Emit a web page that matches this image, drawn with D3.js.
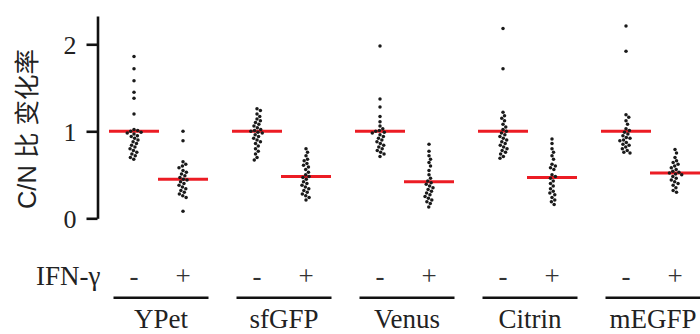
<!DOCTYPE html>
<html><head><meta charset="utf-8">
<script src="https://cdn.jsdelivr.net/npm/d3@7"></script>
<style>body{margin:0;background:#fff}svg{display:block}.serif{font-family:"Liberation Serif","Times New Roman",serif}</style>
</head><body><svg id="c" width="700" height="334"></svg>
<script>
const groups = ["YPet","sfGFP","Venus","Citrin","mEGFP"];
const conditions = ["-","+"];
const treatmentLabel = "IFN-γ";
const yTicks = [0,1,2];
const yLabel = "C/N 比 变化率";

const YPet_minus  = [1.86,1.72,1.58,1.45,1.38,1.20,1.02,1.01,1.00,0.99,0.98,0.97,0.95,0.94,0.92,0.90,0.88,0.86,0.84,0.82,0.80,0.78,0.76,0.74,0.72,0.70,0.68];
const YPet_plus   = [1.00,0.89,0.65,0.62,0.60,0.58,0.55,0.53,0.51,0.49,0.47,0.45,0.44,0.42,0.40,0.38,0.36,0.34,0.32,0.30,0.28,0.26,0.24,0.08];
const sfGFP_minus = [1.26,1.24,1.20,1.17,1.14,1.12,1.10,1.08,1.06,1.04,1.02,1.01,1.00,0.99,0.98,0.96,0.94,0.92,0.90,0.88,0.86,0.83,0.80,0.77,0.74,0.70,0.67];
const sfGFP_plus  = [0.80,0.76,0.72,0.68,0.66,0.63,0.61,0.59,0.56,0.53,0.50,0.48,0.47,0.45,0.42,0.40,0.38,0.36,0.34,0.32,0.30,0.28,0.26,0.24,0.21];
const Venus_minus = [1.98,1.37,1.28,1.17,1.11,1.06,1.03,1.01,1.00,0.99,0.98,0.96,0.94,0.92,0.90,0.88,0.86,0.84,0.82,0.80,0.78,0.76,0.74,0.71];
const Venus_plus  = [0.85,0.77,0.72,0.68,0.64,0.60,0.55,0.50,0.46,0.43,0.41,0.39,0.37,0.35,0.33,0.31,0.29,0.27,0.25,0.23,0.21,0.19,0.17,0.13];
const Citrin_minus= [2.18,1.72,1.22,1.18,1.15,1.12,1.08,1.05,1.02,1.00,0.98,0.96,0.94,0.92,0.90,0.88,0.86,0.84,0.82,0.80,0.78,0.76,0.74,0.71,0.69];
const Citrin_plus = [0.91,0.86,0.80,0.76,0.72,0.68,0.62,0.60,0.58,0.56,0.50,0.48,0.46,0.43,0.40,0.37,0.34,0.31,0.29,0.27,0.24,0.21,0.19,0.16];
const mEGFP_minus = [2.21,1.92,1.19,1.16,1.12,1.08,1.03,1.01,0.99,0.97,0.95,0.93,0.92,0.90,0.89,0.87,0.85,0.84,0.82,0.80,0.78,0.76,0.75];
const mEGFP_plus  = [0.79,0.75,0.70,0.66,0.64,0.62,0.60,0.58,0.56,0.54,0.53,0.52,0.51,0.50,0.48,0.46,0.44,0.42,0.40,0.38,0.35,0.32,0.30];
const meansMinus = [1.00,1.00,1.00,1.00,1.00];
const meansPlus  = [0.45,0.48,0.42,0.47,0.52];

const seriesValues = {
  YPet:[YPet_minus,YPet_plus], sfGFP:[sfGFP_minus,sfGFP_plus], Venus:[Venus_minus,Venus_plus],
  Citrin:[Citrin_minus,Citrin_plus], mEGFP:[mEGFP_minus,mEGFP_plus]
};

const svg = d3.select("#c");
const y = d3.scaleLinear().domain([0, 2.325]).range([218.3, 16]);
const xg = d3.scaleBand().domain(groups).range([110, 110 + 5*123]);
const xc = d3.scalePoint().domain(conditions).range([24, 73]);
const cx = (g,c) => xg(g) + xc(c);

// y axis
const yAxis = d3.axisLeft(y).tickValues(yTicks).tickSize(11).tickSizeOuter(0).tickFormat(d3.format("d"));
const ax = svg.append("g").attr("transform","translate(97.5,0)").call(yAxis);
ax.attr("font-family",null).attr("font-size",null);
ax.select(".domain").attr("stroke","#111").attr("stroke-width",2.6);
ax.selectAll(".tick line").attr("stroke","#111").attr("stroke-width",2.6);
ax.selectAll(".tick text").attr("x",-21).attr("dy","0.34em").attr("class","serif")
  .style("font-size","26px").attr("fill","#222");

svg.append("text").attr("transform","translate(36,129) rotate(-90)")
  .attr("text-anchor","middle")
  .style("font-family","'Liberation Sans',Arial,'Noto Sans CJK SC',sans-serif").style("font-size","25.5px").attr("fill","#222")
  .text(yLabel);

// beeswarm
const r = 1.75, diam = 3.8;
function swarm(vals){
  const pts = vals.map(v=>({v, py:y(v)})).sort((a,b)=>a.py-b.py);
  const placed=[];
  pts.forEach(p=>{
    const near = placed.filter(q=>Math.abs(q.py-p.py)<diam);
    let cands=[0];
    near.forEach(q=>{const dx=Math.sqrt(diam*diam-(q.py-p.py)**2); cands.push(q.dx+dx,q.dx-dx);});
    cands.sort((a,b)=>Math.abs(a)-Math.abs(b));
    for(const c of cands){
      if(near.every(q=>(q.dx-c)**2+(q.py-p.py)**2>=diam*diam-1e-6)){p.dx=c;break;}
    }
    placed.push(p);
  });
  return placed;
}

const means = [meansMinus, meansPlus];
groups.forEach((g,gi)=>{
  conditions.forEach((c,ci)=>{
    const x0 = cx(g,c);
    svg.append("line").attr("x1",x0-25).attr("x2",x0+25)
      .attr("y1",y(means[ci][gi])).attr("y2",y(means[ci][gi]))
      .attr("stroke","#ec1c24").attr("stroke-width",3);
    svg.append("g").selectAll("circle").data(swarm(seriesValues[g][ci])).join("circle")
      .attr("cx",d=>x0+d.dx).attr("cy",d=>d.py).attr("r",r).attr("fill","#1a1a1a");
  });
});

// bottom labels
svg.append("text").attr("class","serif").attr("x",36).attr("y",285).style("font-size","27px")
  .attr("fill","#222").text(treatmentLabel);
groups.forEach(g=>{
  conditions.forEach(c=>{
    svg.append("text").attr("class","serif").attr("x",cx(g,c)).attr("y",285).attr("text-anchor","middle")
      .style("font-size","27px").attr("fill","#333").text(c);
  });
  svg.append("line").attr("x1",xg(g)+3.5).attr("x2",xg(g)+98.5).attr("y1",297.7).attr("y2",297.7)
    .attr("stroke","#111").attr("stroke-width",2.6);
  svg.append("text").attr("class","serif").attr("x",xg(g)+51).attr("y",328).attr("text-anchor","middle")
    .style("font-size","27px").attr("fill","#222").text(g);
});
</script></body></html>
